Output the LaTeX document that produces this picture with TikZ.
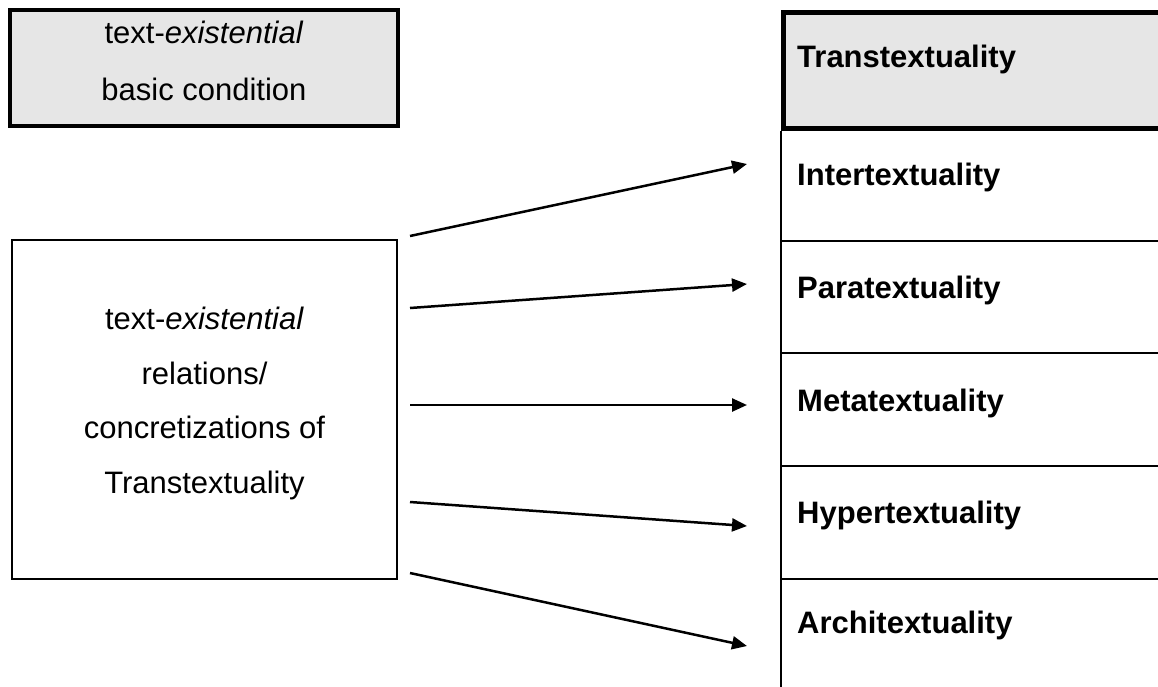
\documentclass[tikz,border=0pt]{standalone}
\usepackage{fontspec}
\setmainfont{Liberation Sans}
\usetikzlibrary{arrows.meta}
\definecolor{boxgray}{RGB}{230,230,230}
\begin{document}
\begin{tikzpicture}[x=1pt,y=-1pt,
  txt/.style={font=\fontsize{31}{37}\selectfont, inner sep=0pt, anchor=base},
  lbl/.style={font=\fontsize{31}{37}\selectfont\bfseries, inner sep=0pt, anchor=base west},
  graybox/.style={draw, fill=boxgray, line width=4.5pt, inner sep=0pt},
  plainbox/.style={draw, line width=2.5pt, inner sep=0pt},
  rule/.style={line width=2.5pt},
  arr/.style={line width=2.5pt, -{Triangle[length=15pt,width=13pt]}}]
\clip (0,0) rectangle (1158,686);
\fill[white] (0,0) rectangle (1158,686);
% left boxes
\node[graybox, minimum width=388pt, minimum height=116pt] (cond) at (204,68) {};
\node[txt] (cond1) at (204,43) {text-\textit{existential}};
\node[txt] (cond2) at (204,100) {basic condition};
\node[plainbox, minimum width=385pt, minimum height=339pt] (rel) at (204.5,409.5) {};
\node[txt] (rel1) at (204.5,329) {text-\textit{existential}};
\node[txt] (rel2) at (204.5,384) {relations/};
\node[txt] (rel3) at (204.5,438) {concretizations of};
\node[txt] (rel4) at (204.5,493) {Transtextuality};
% right column
\node[graybox, minimum width=420pt, minimum height=116pt, anchor=north west] (head) at (781,10) {};
\node[lbl] (trans) at (797,67) {Transtextuality};
\coordinate (colbot) at (781,695);
\draw[rule] (head.south west) -- (colbot);
\foreach \y/\n in {241/1,353/2,466/3,579/4}{
  \coordinate (sepl\n) at (781,\y);
  \coordinate (sepr\n) at (1170,\y);
  \draw[rule] (sepl\n) -- (sepr\n);
}
\node[lbl] (inter) at (797,185) {Intertextuality};
\node[lbl] (para) at (797,298) {Paratextuality};
\node[lbl] (meta) at (797,411) {Metatextuality};
\node[lbl] (hyper) at (797,523) {Hypertextuality};
\node[lbl] (archi) at (797,633) {Architextuality};
% arrows
\coordinate (s1) at (410,236); \coordinate (e1) at (747,164);
\coordinate (s2) at (410,308); \coordinate (e2) at (747,284);
\coordinate (s3) at (410,405); \coordinate (e3) at (747,405);
\coordinate (s4) at (410,502); \coordinate (e4) at (747,526);
\coordinate (s5) at (410,573); \coordinate (e5) at (747,646);
\foreach \i in {1,...,5}{\draw[arr] (s\i) -- (e\i);}
\end{tikzpicture}
\end{document}
